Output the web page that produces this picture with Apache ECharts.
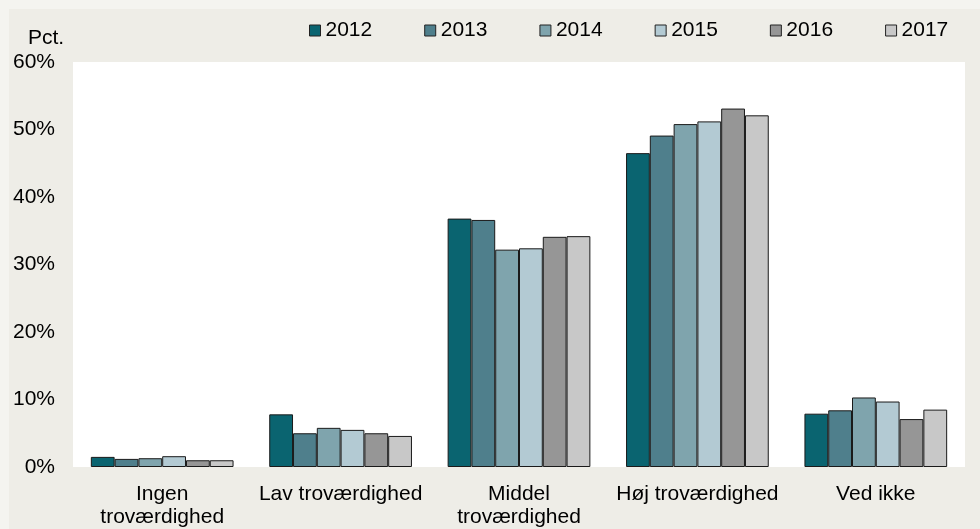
<!DOCTYPE html>
<html>
<head>
<meta charset="utf-8">
<script src="https://cdn.jsdelivr.net/npm/echarts@6/dist/echarts.min.js"></script>
<style>
html,body{margin:0;padding:0;background:#f4f4f0;}
#chart{width:980px;height:529px;}
</style>
</head>
<body>
<div id="chart"></div>
<script>
const categories = ['Ingen\ntroværdighed', 'Lav troværdighed', 'Middel\ntroværdighed', 'Høj troværdighed', 'Ved ikke'];
const years = ['2012', '2013', '2014', '2015', '2016', '2017'];
const v2012 = [1.5, 7.8, 36.8, 46.5, 7.9];
const v2013 = [1.2, 5.0, 36.6, 49.1, 8.4];
const v2014 = [1.3, 5.8, 32.2, 50.8, 10.3];
const v2015 = [1.6, 5.5, 32.4, 51.2, 9.7];
const v2016 = [1.0, 5.0, 34.1, 53.1, 7.1];
const v2017 = [1.0, 4.6, 34.2, 52.1, 8.5];
const yTicks = [0, 10, 20, 30, 40, 50, 60];

const seriesValues = [v2012, v2013, v2014, v2015, v2016, v2017];
const colors = ['#0a6470', '#4f7f8c', '#7fa4ad', '#b3cad3', '#969696', '#c8c8c8'];
const FONT = "'Liberation Sans', Arial, sans-serif";
const FS = 21;

const chart = echarts.init(document.getElementById('chart'), null, {renderer: 'canvas'});
chart.setOption({
  backgroundColor: 'transparent',
  animation: false,
  color: colors,
  graphic: [{
    type: 'rect', left: 9, top: 9, z: -10,
    shape: {width: 971, height: 520},
    style: {fill: '#eeede7'}
  }],
  title: {
    text: 'Pct.', left: 28, top: 28, padding: 0,
    textStyle: {fontFamily: FONT, fontSize: FS, fontWeight: 'normal', color: '#000'}
  },
  legend: {
    left: 309, top: 20, padding: 0,
    itemWidth: 11, itemHeight: 11, itemGap: 52,
    icon: 'rect',
    data: years,
    textStyle: {fontFamily: FONT, fontSize: FS, color: '#000'},
    itemStyle: {borderColor: '#222', borderWidth: 1}
  },
  grid: {
    left: 73, right: 15, top: 62, bottom: 62,
    show: true, backgroundColor: '#ffffff', borderWidth: 0,
    containLabel: false
  },
  xAxis: {
    type: 'category',
    data: categories,
    axisLine: {show: false},
    axisTick: {show: false},
    axisLabel: {
      fontFamily: FONT, fontSize: FS, color: '#000',
      margin: 16, lineHeight: 23, interval: 0
    }
  },
  yAxis: {
    type: 'value',
    min: yTicks[0], max: yTicks[yTicks.length - 1], interval: 10,
    axisLine: {show: false},
    axisTick: {show: false},
    splitLine: {show: false},
    axisLabel: {
      fontFamily: FONT, fontSize: FS, color: '#000', margin: 18,
      formatter: '{value}%'
    }
  },
  series: years.map((y, i) => ({
    name: y,
    type: 'bar',
    data: seriesValues[i],
    barGap: '0%',
    barCategoryGap: '20%',
    itemStyle: {color: colors[i], borderColor: '#1a1a1a', borderWidth: 1}
  }))
});
</script>
</body>
</html>
